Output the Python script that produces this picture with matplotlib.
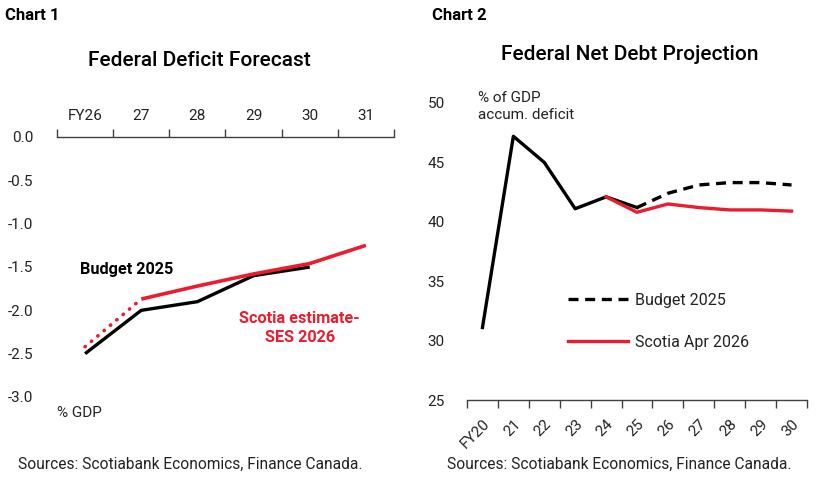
import matplotlib
matplotlib.use("Agg")
import matplotlib.pyplot as plt
from matplotlib.lines import Line2D

plt.rcParams["font.family"] = ["Roboto", "DejaVu Sans"]

RED = "#ec1c2e"
GREY = "#404040"
TXT = "#222222"

# ---- chart 1 data: federal deficit, % of GDP ----
c1_years = ["FY26", "27", "28", "29", "30", "31"]
c1_budget = [-2.5, -2.0, -1.9, -1.6, -1.5]            # FY26..30
c1_scotia_dot = [-2.42, -1.87]                        # FY26..27
c1_scotia = [-1.87, -1.72, -1.58, -1.46, -1.25]       # 27..31
c1_yticks = [0.0, -0.5, -1.0, -1.5, -2.0, -2.5, -3.0]

# ---- chart 2 data: federal net debt, % of GDP ----
c2_years = ["FY20", "21", "22", "23", "24", "25", "26", "27", "28", "29", "30"]
c2_actual = [31.1, 47.2, 45.0, 41.1, 42.1, 41.2]      # FY20..25
c2_budget = [41.2, 42.4, 43.1, 43.3, 43.3, 43.1]      # 25..30
c2_scotia = [42.1, 40.8, 41.5, 41.2, 41.0, 41.0, 40.9]  # 24..30
c2_yticks = [25, 30, 35, 40, 45, 50]

W, H = 828, 483
fig = plt.figure(figsize=(W / 100, H / 100), dpi=100)


def px_axes(l, t, r, b):
    return fig.add_axes([l / W, 1 - b / H, (r - l) / W, (b - t) / H])


# ------------------------------ chart 1 ------------------------------ #
ax1 = px_axes(57, 137, 394, 397)
ax1.plot(range(len(c1_budget)), c1_budget, color="black", lw=2.4,
         solid_capstyle="butt", zorder=3)
ax1.plot([0, 1], c1_scotia_dot, color=RED, lw=2.6, linestyle=(0, (0.1, 2.2)),
         dash_capstyle="round", zorder=4)
ax1.plot(range(1, 1 + len(c1_scotia)), c1_scotia, color=RED, lw=2.6,
         solid_capstyle="butt", zorder=4)

ax1.set_xlim(-0.5, len(c1_years) - 0.5)
ax1.set_ylim(-3.0, 0.0)
ax1.set_xticks([i - 0.5 for i in range(len(c1_years) + 1)])
ax1.set_xticklabels([])
ax1.set_xticks(range(len(c1_years)), minor=True)
ax1.set_xticklabels(c1_years, minor=True)
ax1.xaxis.tick_top()
ax1.tick_params(axis="x", which="major", direction="out", length=6, width=1, color=GREY)
ax1.tick_params(axis="x", which="minor", length=0, pad=10, labelsize=11, labelcolor=TXT)
ax1.set_yticks(c1_yticks)
ax1.set_yticklabels([f"{v:.1f}" for v in c1_yticks])
ax1.tick_params(axis="y", length=0, pad=17, labelsize=11, labelcolor=TXT)
for s in ["left", "right", "bottom"]:
    ax1.spines[s].set_visible(False)
ax1.spines["top"].set_color(GREY)
ax1.spines["top"].set_linewidth(1)

ax1.text(0.068, 0.49, "Budget 2025", transform=ax1.transAxes, fontsize=11.7,
         fontweight="bold", color="black", va="center", ha="left")
ax1.text(0.72, 0.265, "Scotia estimate-\nSES 2026", transform=ax1.transAxes,
         fontsize=11.7, fontweight="bold", color=RED, va="center", ha="center",
         linespacing=1.3)
ax1.text(0.0, -0.06, "% GDP", transform=ax1.transAxes, fontsize=11,
         color=TXT, va="center", ha="left")

# ------------------------------ chart 2 ------------------------------ #
ax2 = px_axes(467, 103, 807, 400)
ax2.plot(range(len(c2_actual)), c2_actual, color="black", lw=2.4, zorder=3)
ax2.plot(range(5, 5 + len(c2_budget)), c2_budget, color="black", lw=2.4,
         linestyle=(0, (3, 2)), zorder=3)
ax2.plot(range(4, 4 + len(c2_scotia)), c2_scotia, color=RED, lw=2.4, zorder=4)

ax2.set_xlim(-0.5, len(c2_years) - 0.5)
ax2.set_ylim(25, 50)
ax2.set_xticks([i - 0.5 for i in range(len(c2_years) + 1)])
ax2.set_xticklabels([])
ax2.set_xticks(range(len(c2_years)), minor=True)
ax2.set_xticklabels(c2_years, minor=True, rotation=45, ha="right",
                    rotation_mode="anchor")
ax2.tick_params(axis="x", which="major", direction="out", length=6, width=1, color=GREY)
ax2.tick_params(axis="x", which="minor", length=0, pad=12, labelsize=11, labelcolor=TXT)
ax2.set_yticks(c2_yticks)
ax2.tick_params(axis="y", length=0, pad=16, labelsize=11, labelcolor=TXT)
for s in ["left", "right", "top"]:
    ax2.spines[s].set_visible(False)
ax2.spines["bottom"].set_color(GREY)
ax2.spines["bottom"].set_linewidth(1)

ax2.text(0.033, 1.04, "% of GDP\naccum. deficit", transform=ax2.transAxes,
         fontsize=11, color=TXT, va="top", ha="left", linespacing=1.3)

handles = [Line2D([], [], color="black", lw=2.4, linestyle=(0, (3, 2))),
           Line2D([], [], color=RED, lw=2.4)]
ax2.legend(handles, ["Budget 2025", "Scotia Apr 2026"], loc="center left",
           bbox_to_anchor=(0.255, 0.265), frameon=False, fontsize=11.5,
           handlelength=3.75, handletextpad=0.45, labelspacing=1.7,
           labelcolor=TXT)

# ------------------------------ titles ------------------------------ #
fig.text(5 / W, 1 - 16 / H, "Chart 1", fontsize=12, fontweight="bold", va="center")
fig.text(432 / W, 1 - 16 / H, "Chart 2", fontsize=12, fontweight="bold", va="center")
fig.text(199 / W, 1 - 60 / H, "Federal Deficit Forecast", fontsize=15,
         fontweight="medium", ha="center", va="center")
fig.text(630 / W, 1 - 55 / H, "Federal Net Debt Projection", fontsize=15,
         fontweight="medium", ha="center", va="center")
fig.text(18 / W, 1 - 464 / H, "Sources: Scotiabank Economics, Finance Canada.",
         fontsize=11.2, color=TXT, va="center")
fig.text(447 / W, 1 - 464 / H, "Sources: Scotiabank Economics, Finance Canada.",
         fontsize=11.2, color=TXT, va="center")

fig.savefig("out.png", dpi=100, facecolor="white")
